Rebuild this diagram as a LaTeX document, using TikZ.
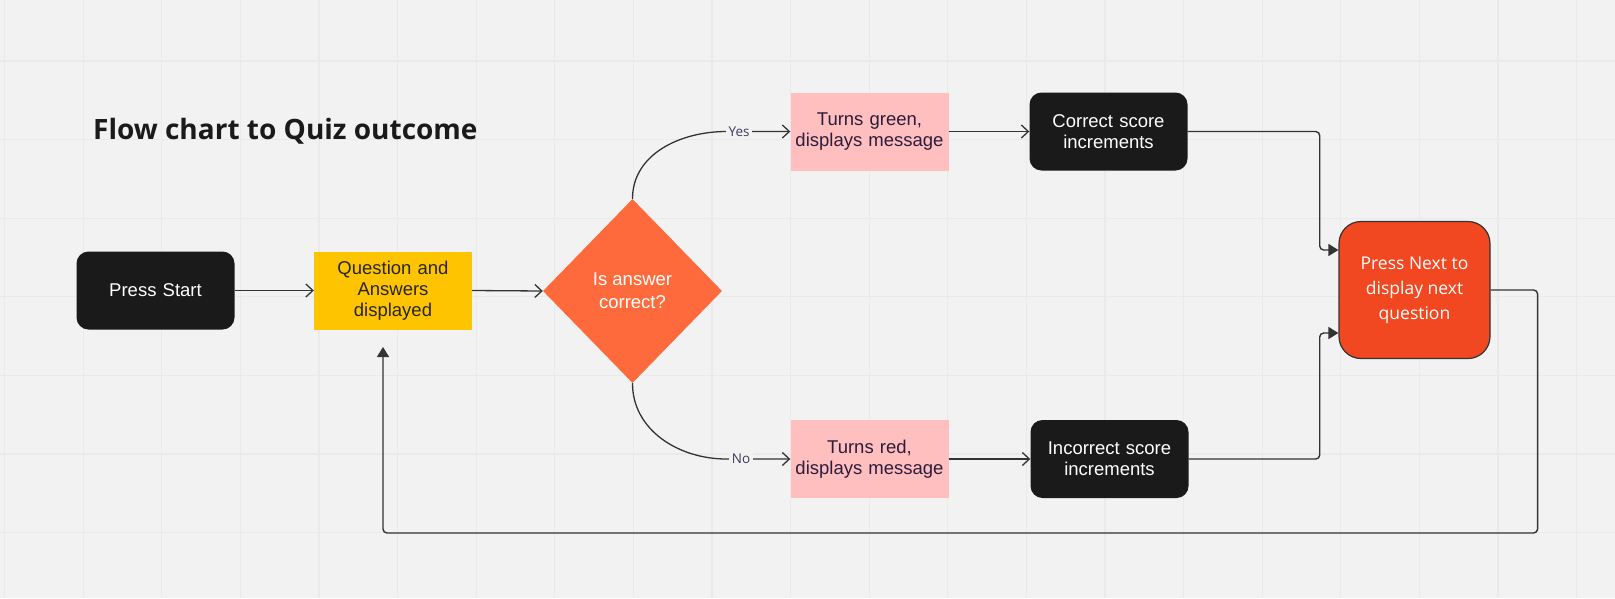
\documentclass[tikz,border=0pt]{standalone}
\usepackage{fontspec}
\setmainfont{Liberation Sans}
\newfontfamily\opensans{Open Sans}
\usetikzlibrary{shapes.geometric,arrows.meta}

\definecolor{canvas}{HTML}{F2F2F2}
\definecolor{gridline}{HTML}{EAEAEA}
\definecolor{darkbox}{HTML}{1A1A1A}
\definecolor{quizyellow}{HTML}{FFC400}
\definecolor{quizorange}{HTML}{FF6A3D}
\definecolor{quizpink}{HTML}{FFBFBF}
\definecolor{quizred}{HTML}{F24822}
\definecolor{wire}{HTML}{333333}
\definecolor{labelink}{HTML}{3D3D5C}
\definecolor{pinkink}{HTML}{2B1D3D}

\tikzset{
  boxtext/.style={font=\fontsize{18.5}{21}\selectfont, align=center, text width=156pt,
    minimum width=158pt, minimum height=78pt, inner sep=0pt},
  blackbox/.style={boxtext, fill=darkbox, text=white, rounded corners=12pt},
  yellowbox/.style={boxtext, fill=quizyellow, text=black!85},
  pinkbox/.style={boxtext, fill=quizpink, text=pinkink},
  decision/.style={diamond, fill=quizorange, text=white, align=center,
    font=\fontsize{18.5}{23}\selectfont, minimum width=179pt, minimum height=184pt, inner sep=0pt},
  nextbox/.style={fill=quizred, draw=wire, line width=1.2pt, rounded corners=22pt,
    minimum width=151pt, minimum height=137pt, text=white, align=center,
    font=\opensans\fontsize{17.5}{25}\selectfont},
  wirearrow/.style={draw=wire, line width=1.3pt, -{Straight Barb[length=7pt,width=13pt]}},
  filledarrow/.style={draw=wire, line width=1.4pt, rounded corners=4pt, -{Triangle[length=10pt,width=12pt]}},
  branchlabel/.style={fill=canvas, text=labelink, font=\opensans\fontsize{13.5}{16}\selectfont, inner sep=2.5pt},
}

\begin{document}
\begin{tikzpicture}[x=1pt,y=-1pt]
  % Canvas and the faint grid behind the chart.
  \useasboundingbox (0,0) rectangle (1615,598);
  \fill[canvas] (0,0) rectangle (1615,598);
  \foreach \gx in {0,...,20}
    \draw[gridline, line width=1.2pt] ({4.5+78.6*\gx},0) -- ++(0,598);
  \foreach \gy in {1,...,7}
    \draw[gridline, line width=1.2pt] (0,{-17.6+78.6*\gy}) -- ++(1615,0);
  % Title.
  \node[anchor=base west, inner sep=0pt, text=darkbox, font=\opensans\bfseries\fontsize{28}{32}\selectfont]
    (title) at (93,139) {Flow chart to Quiz outcome};
  % Draw the steps of the quiz.
  \node[blackbox] (start) at (155.5,290.5) {Press Start};
  \node[yellowbox] (qa) at (393,290.5) {Question and\\Answers\\displayed};
  \node[decision] (dia) at (632.5,291) {Is answer\\correct?};
  \node[pinkbox] (green) at (869.5,131.5) {Turns green,\\displays message};
  \node[pinkbox] (red) at (869.5,459) {Turns red,\\displays message};
  \node[blackbox] (correct) at (1108.5,131.5) {Correct score\\increments};
  \node[blackbox] (wrong) at (1109.5,459) {Incorrect score\\increments};
  \node[nextbox] (next) at (1414.5,290) {Press Next to\\display next\\question};
  \coordinate (loopback) at (383,347);
  % Draw the arrows between the steps.
  \draw[wirearrow] (start.east) -- (qa.west);
  \draw[wirearrow] (qa.east) -- (dia.west);
  \draw[wirearrow] (dia.north) to[out=90,in=180] ([xshift=-64pt]green.west)
    -- node[branchlabel, pos=0.2] {Yes} (green.west);
  \draw[wirearrow] (dia.south) to[out=-90,in=180] ([xshift=-64pt]red.west)
    -- node[branchlabel, pos=0.23] {No} (red.west);
  \draw[wirearrow] (green.east) -- (correct.west);
  \draw[wirearrow] (red.east) -- (wrong.west);
  % Both scores lead to the next question, which loops back.
  \draw[filledarrow] (correct.east) -- ++(132,0) |- ([yshift=40pt]next.west);
  \draw[filledarrow] (wrong.east) -- ++(131,0) |- ([yshift=-43pt]next.west);
  \draw[filledarrow] (next.east) -- ++(47,0) -- ++(0,243) -| (loopback);
\end{tikzpicture}
\end{document}
